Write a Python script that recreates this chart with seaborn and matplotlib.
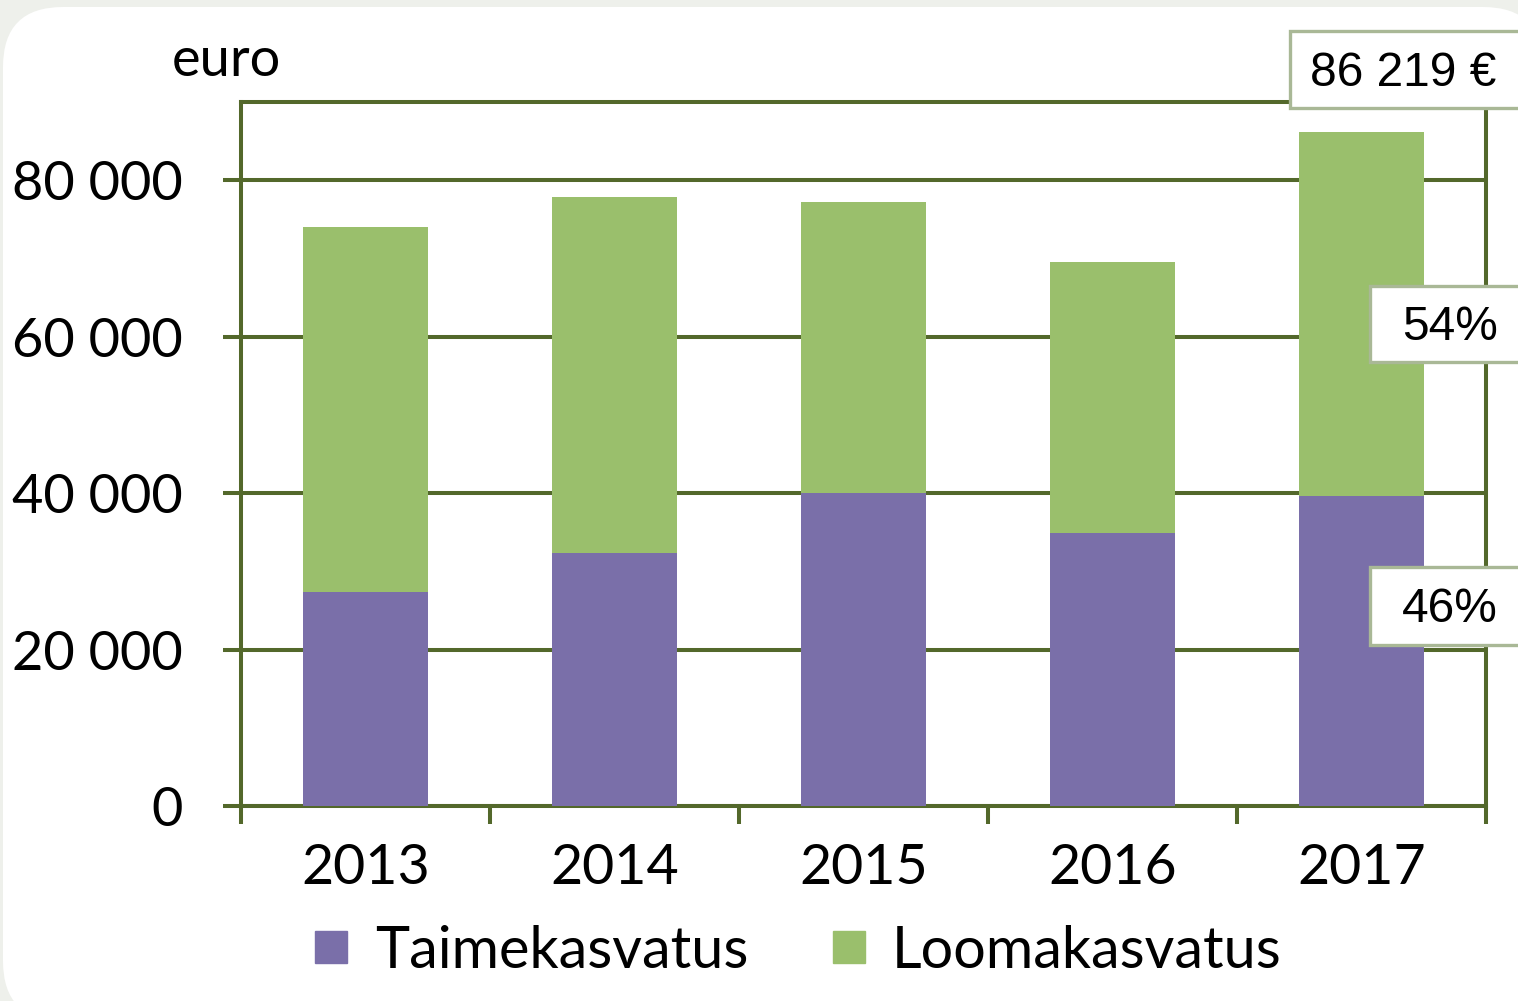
import matplotlib
matplotlib.use('Agg')
import matplotlib.pyplot as plt
import seaborn as sns
import pandas as pd
from matplotlib.patches import FancyBboxPatch, Rectangle
from matplotlib.lines import Line2D
from matplotlib.ticker import FixedLocator

# ---------------- data ----------------
years = ['2013', '2014', '2015', '2016', '2017']
taimekasvatus = [27300, 32400, 40000, 34900, 39660]
loomakasvatus = [46700, 45400, 37200, 34700, 46559]
series_names = ['Taimekasvatus', 'Loomakasvatus']
y_ticks = [0, 20000, 40000, 60000, 80000]
y_tick_labels = ['0', '20 000', '40 000', '60 000', '80 000']
unit_label = 'euro'
total_label = '86 219 €'
share_labels = ['54%', '46%']

# ---------------- style ----------------
PURPLE = '#7a6fa9'
GREEN = '#9abf6c'
OLIVE = '#53682b'
BOX_EDGE = '#a9b896'
BG = '#eef0eb'
LW = 2.9

sns.set_theme(style='white')
plt.rcParams['font.family'] = ['Lato', 'DejaVu Sans']
plt.rcParams['text.color'] = 'black'

W, H = 1518, 1001
fig = plt.figure(figsize=(W / 100, H / 100), dpi=100)
fig.patch.set_facecolor(BG)

# rounded white panel (pixel coordinates, origin bottom-left)
panel = FancyBboxPatch((3, -20), 1540, 1001 - 7 + 20,
                       boxstyle='round,pad=0,rounding_size=60',
                       transform=None, facecolor='white', edgecolor='none', zorder=0)
fig.add_artist(panel)

ax = fig.add_axes([241 / W, 1 - 806 / H, (1486 - 241) / W, (806 - 102) / H])
ax.patch.set_visible(False)

df = pd.DataFrame({'year': years,
                   'taime': taimekasvatus,
                   'total': [a + b for a, b in zip(taimekasvatus, loomakasvatus)]})

sns.barplot(data=df, x='year', y='total', color=GREEN, width=0.5, saturation=1,
            linewidth=0, ax=ax, zorder=3)
sns.barplot(data=df, x='year', y='taime', color=PURPLE, width=0.5, saturation=1,
            linewidth=0, ax=ax, zorder=3)

ax.set_xlim(-0.5, 4.5)
ax.set_ylim(0, 90000)
ax.set_xlabel('')
ax.set_ylabel('')

ax.set_yticks(y_ticks)
ax.set_yticklabels(y_tick_labels)
ax.yaxis.grid(True, color=OLIVE, linewidth=LW)
ax.xaxis.grid(False)
ax.set_axisbelow(True)

for s in ax.spines.values():
    s.set_visible(True)
    s.set_color(OLIVE)
    s.set_linewidth(LW)

ax.tick_params(axis='y', which='major', direction='out', length=13, width=LW,
               color=OLIVE, labelsize=39, pad=29, labelcolor='black', left=True)
ax.tick_params(axis='x', which='major', length=0, labelsize=40, pad=27,
               labelcolor='black')
ax.xaxis.set_minor_locator(FixedLocator([-0.5, 0.5, 1.5, 2.5, 3.5, 4.5]))
ax.tick_params(axis='x', which='minor', direction='out', length=13, width=LW,
               color=OLIVE, bottom=True)

# unit label
fig.text(172 / W, 1 - 60 / H, unit_label, fontsize=39, ha='left', va='center',
         color='black')

# legend
handles = [Line2D([], [], marker='s', linestyle='', markersize=23,
                  markerfacecolor=c, markeredgecolor=c) for c in (PURPLE, GREEN)]
fig.legend(handles, series_names, loc='center', bbox_to_anchor=(798 / W, 1 - 951 / H),
           ncol=2, frameon=False, fontsize=41.5, handlelength=0.6, handletextpad=0.45,
           columnspacing=1.45, borderpad=0, labelcolor='black')

# annotation boxes (pixel coords: x0, y_top, x1, y_bottom measured from top)
def label_box(x0, ytop, x1, ybot, text, tx):
    rect = Rectangle((x0, H - ybot), x1 - x0, ybot - ytop, transform=None,
                     facecolor='white', edgecolor=BOX_EDGE, linewidth=2.4, zorder=5)
    fig.add_artist(rect)
    fig.text(tx / W, 1 - ((ytop + ybot) / 2 + 4) / H, text, fontsize=34.5,
             family='Liberation Sans', ha='left', va='center', color='black', zorder=6)

label_box(1290, 31, 1540, 108, total_label, 1310)
label_box(1370, 286, 1540, 362, share_labels[0], 1402)
label_box(1370, 567, 1540, 645, share_labels[1], 1402)

fig.savefig('out.png', dpi=100, facecolor=fig.get_facecolor())
